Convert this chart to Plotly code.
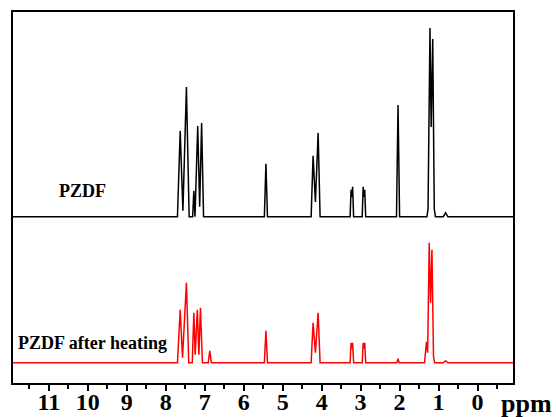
import plotly.graph_objects as go

# PZDF spectrum (black): chemical shift (ppm) and intensity vertices
pzdf_ppm = [12.0, 7.70, 7.63, 7.56, 7.47, 7.40, 7.31, 7.28, 7.25, 7.18, 7.13, 7.08, 7.03,
            5.47, 5.43, 5.39,
            4.27, 4.22, 4.16, 4.09, 4.04,
            3.27, 3.245, 3.225, 3.205, 3.18,
            2.96, 2.935, 2.915, 2.895, 2.87,
            2.08, 2.04, 2.00,
            1.30, 1.27, 1.22, 1.19, 1.15, 1.11, 1.08,
            0.88, 0.82, 0.76, -1.0]
pzdf_int = [0, 0, 86, 6, 130, 0, 0, 26, 0, 91, 10, 94, 0,
            0, 53, 0,
            0, 61, 15, 84, 0,
            0, 27, 20, 30, 0,
            0, 30, 20, 27, 0,
            0, 112, 0,
            0, 8, 189, 90, 178, 8, 0,
            0, 4, 0, 0]

# PZDF after heating (red)
heat_ppm = [12.0, 7.70, 7.63, 7.57, 7.47, 7.41, 7.32, 7.28, 7.245, 7.19, 7.15, 7.11, 7.06,
            6.91, 6.87, 6.83,
            5.47, 5.43, 5.39,
            4.27, 4.22, 4.16, 4.09, 4.04,
            3.27, 3.245, 3.225, 3.205, 3.18,
            2.96, 2.935, 2.915, 2.895, 2.87,
            2.07, 2.04, 2.01,
            1.36, 1.31, 1.28, 1.24, 1.205, 1.17, 1.13, 1.10,
            0.88, 0.82, 0.76, -1.0]
heat_int = [0, 0, 53, 5, 80, 0, 0, 50, 8, 53, 8, 55, 0,
            0, 12, 0,
            0, 32, 0,
            0, 40, 10, 50, 0,
            0, 20, 14, 20, 0,
            0, 20, 14, 20, 0,
            0, 4, 0,
            0, 21, 10, 120, 60, 113, 6, 0,
            0, 2, 0, 0]

tick_vals = [11, 10, 9, 8, 7, 6, 5, 4, 3, 2, 1, 0]
tick_text = [str(v) for v in tick_vals]
label_top = "PZDF"
label_bottom = "PZDF after heating"
x_unit = "ppm"

offset_top = 146

fig = go.Figure()
fig.add_trace(go.Scatter(x=pzdf_ppm, y=[v + offset_top for v in pzdf_int], mode="lines",
                         line=dict(color="black", width=1.5), showlegend=False))
fig.add_trace(go.Scatter(x=heat_ppm, y=heat_int, mode="lines",
                         line=dict(color="#ff0000", width=1.5), showlegend=False))

serif = "Liberation Serif"
fig.add_annotation(x=10.13, y=172, xref="x", yref="y", text=label_top, showarrow=False,
                   font=dict(family=serif, size=18, color="black", weight="bold"))
fig.add_annotation(x=9.88, y=20, xref="x", yref="y", text=label_bottom, showarrow=False,
                   font=dict(family=serif, size=18, color="black", weight="bold"))
fig.add_annotation(x=0.971, y=-0.055, xref="paper", yref="paper", text=x_unit, showarrow=False,
                   xanchor="left", yanchor="middle",
                   font=dict(family=serif, size=26, color="black", weight="bold"))

fig.update_xaxes(range=[11.92, -0.91], tickmode="array", tickvals=tick_vals, ticktext=tick_text,
                 ticks="outside", ticklen=6, tickwidth=2, tickcolor="black",
                 minor=dict(dtick=0.5, tick0=0, ticks="outside", ticklen=4, tickwidth=2, tickcolor="black"),
                 showline=True, linecolor="black", linewidth=2, mirror=True,
                 showgrid=False, zeroline=False, automargin=False, ticklabelstandoff=-10,
                 tickfont=dict(family=serif, size=24, color="black", weight="bold"))
fig.update_yaxes(range=[-20.3, 351], showticklabels=False, ticks="",
                 showline=True, linecolor="black", linewidth=2, mirror=True,
                 showgrid=False, zeroline=False, automargin=False)

fig.update_layout(width=556, height=417, margin=dict(l=13, r=43, t=12, b=34),
                  plot_bgcolor="white", paper_bgcolor="white")

fig.write_html("out.html")
